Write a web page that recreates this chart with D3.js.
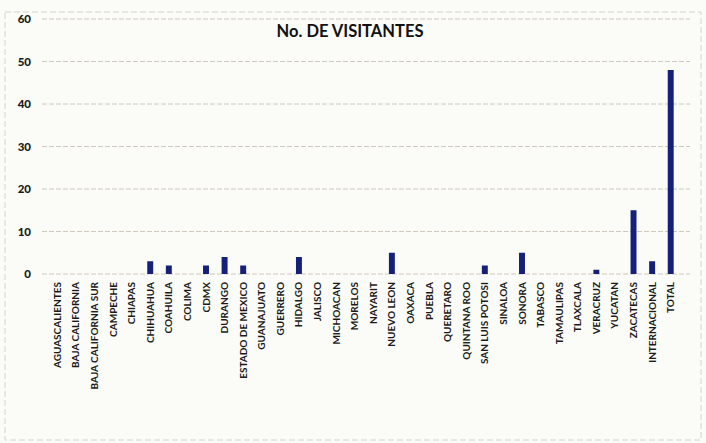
<!DOCTYPE html>
<html><head><meta charset="utf-8">
<script src="https://cdn.jsdelivr.net/npm/d3@7"></script>
<style>body{margin:0;background:#fbfbf7;}svg{display:block;}</style>
</head><body>
<svg id="c" width="706" height="443"></svg>
<script>
const categories = ["AGUASCALIENTES","BAJA CALIFORNIA","BAJA CALIFORNIA SUR","CAMPECHE","CHIAPAS","CHIHUAHUA","COAHUILA","COLIMA","CDMX","DURANGO","ESTADO DE MEXICO","GUANAJUATO","GUERRERO","HIDALGO","JALISCO","MICHOACAN","MORELOS","NAYARIT","NUEVO LEON","OAXACA","PUEBLA","QUERETARO","QUINTANA ROO","SAN LUIS POTOSI","SINALOA","SONORA","TABASCO","TAMAULIPAS","TLAXCALA","VERACRUZ","YUCATAN","ZACATECAS","INTERNACIONAL","TOTAL"];
const visitantes = [0,0,0,0,0,3,2,0,2,4,2,0,0,4,0,0,0,0,5,0,0,0,0,2,0,5,0,0,0,1,0,15,3,48];
const yTicks = [0,10,20,30,40,50,60];
const title = "No. DE VISITANTES";

const svg = d3.select("#c");
const font = "Lato, 'Open Sans', sans-serif";
const x = d3.scaleBand().domain(categories).range([48, 680]).paddingInner(0.68).paddingOuter(0.34);
const y = d3.scaleLinear().domain([0,60]).range([274, 19]);

// outer frame
svg.append("rect").attr("x",5).attr("y",12).attr("width",696).attr("height",428)
  .attr("fill","none").attr("stroke","#d6d3cc").attr("stroke-width",1).attr("stroke-dasharray","6,3");

// gridlines
svg.append("g").selectAll("line").data(yTicks).join("line")
  .attr("x1",42).attr("x2",690)
  .attr("y1",d=>y(d)).attr("y2",d=>y(d))
  .attr("stroke","#cfc8bc").attr("stroke-width",1).attr("stroke-dasharray","5,2");

// y axis labels
const yAxis = d3.axisLeft(y).tickValues(yTicks).tickSize(0).tickPadding(0);
const ya = svg.append("g").attr("transform","translate(31,0)").call(yAxis);
ya.select(".domain").remove();
ya.selectAll("text").attr("font-family",font).attr("font-weight","900").attr("font-size",11.5).attr("fill","#1a1a1a");

// bars
svg.append("g").selectAll("rect").data(categories).join("rect")
  .attr("x",d=>x(d)).attr("width",x.bandwidth())
  .attr("y",(d,i)=>y(visitantes[i]))
  .attr("height",(d,i)=>y(0)-y(visitantes[i]))
  .attr("fill","#14207a");

// x axis labels
const xAxis = d3.axisBottom(x).tickSize(0).tickPadding(0);
const xa = svg.append("g").attr("transform",`translate(0,${y(0)+8})`).call(xAxis);
xa.select(".domain").remove();
xa.selectAll("text")
  .attr("font-family",font).attr("font-weight","bold").attr("font-size",10).attr("fill","#1a1a1a")
  .attr("transform","rotate(-90)").attr("text-anchor","end").attr("x",0).attr("y",0).attr("dy","0.35em");

// title
svg.append("text").attr("x",350).attr("y",37).attr("text-anchor","middle")
  .attr("font-family",font).attr("font-weight","bold").attr("font-size",16.5).attr("fill","#111")
  .text(title);
</script>
</body></html>
